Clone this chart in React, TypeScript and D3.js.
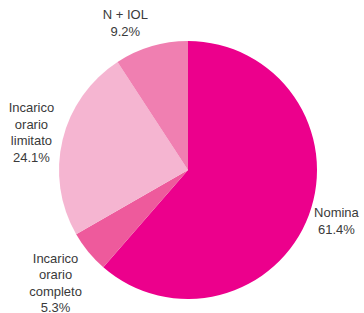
import React from 'react';
import * as d3 from 'd3';

// slices, clockwise from 12 o'clock
const labels = ['Nomina', 'Incarico orario completo', 'Incarico orario limitato', 'N + IOL'];
const labelLines = [['Nomina'], ['Incarico', 'orario', 'completo'], ['Incarico', 'orario', 'limitato'], ['N + IOL']];
const values = [61.4, 5.3, 24.1, 9.2];
const colors = ['#ec008c', '#ee5a9c', '#f5b5d1', '#f07fb1'];

interface Slice {
  label: string;
  lines: string[];
  value: number;
  color: string;
}

const slices: Slice[] = labels.map((l, i) => ({ label: l, lines: labelLines[i], value: values[i], color: colors[i] }));

// label radius / angle nudges for each slice (degrees)
const labelRadius = [157, 174, 161, 160];
const labelAngleShift = [-1.5, -1, 0, -6.5];

const App: React.FC = () => {
  const width = 364;
  const height = 313;
  const cx = 188;
  const cy = 170;
  const radius = 129;
  const lineHeight = 16.5;

  const pie = d3.pie<Slice>().sort(null).value(d => d.value);
  const arcs = pie(slices);
  const arc = d3.arc<d3.PieArcDatum<Slice>>().innerRadius(0).outerRadius(radius);

  return (
    <svg width={width} height={height} style={{ position: 'absolute', left: 0, top: 0, background: '#fff' }}>
      <g transform={`translate(${cx},${cy})`}>
        {arcs.map((a, i) => (
          <path key={i} d={arc(a) || ''} fill={a.data.color} />
        ))}
        {arcs.map((a, i) => {
          const mid = (a.startAngle + a.endAngle) / 2 + (labelAngleShift[i] * Math.PI) / 180;
          const r = labelRadius[i];
          const x = Math.sin(mid) * r;
          const y = -Math.cos(mid) * r;
          const lines = [...a.data.lines, `${a.data.value.toFixed(1)}%`];
          return (
            <text
              key={`t${i}`}
              x={x}
              y={y}
              textAnchor="middle"
              fontFamily="Liberation Sans, Arial, sans-serif"
              fontSize={13}
              fill="#3a3a3a"
            >
              {lines.map((ln, j) => (
                <tspan key={j} x={x} y={y + (j - (lines.length - 1) / 2) * lineHeight} dominantBaseline="central">
                  {ln}
                </tspan>
              ))}
            </text>
          );
        })}
      </g>
    </svg>
  );
};

export default App;
